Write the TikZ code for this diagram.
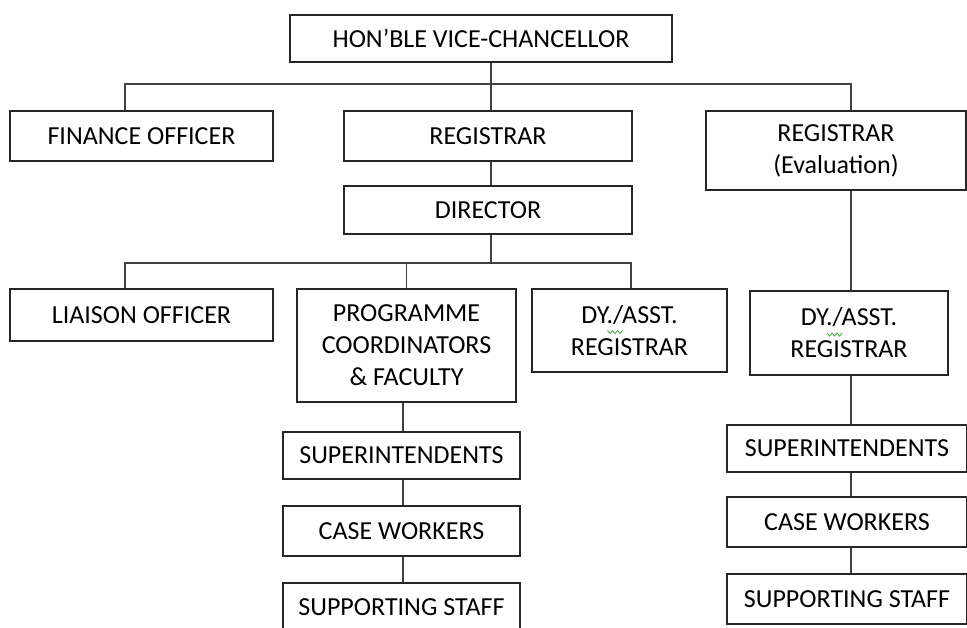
\documentclass[tikz,border=0pt]{standalone}
\usepackage{fontspec}
\setmainfont{Carlito}
\definecolor{squig}{RGB}{60,170,60}
\begin{document}
\begin{tikzpicture}[x=1pt,y=-1pt,
  box/.style={draw=black!85,line width=1.4pt,fill=white,align=center,inner sep=0pt,
    font=\fontsize{26}{32}\selectfont},
  conn/.style={draw=black!75,line width=1.3pt},
  spell/.style={draw=squig,line width=0.8pt}]
\useasboundingbox (0,0) rectangle (967,628);
% boxes
\node[box,minimum width=382,minimum height=47] (vc) at (481,38.5) {HON’BLE VICE-CHANCELLOR};
\node[box,minimum width=263,minimum height=50] (fin) at (141.5,136) {FINANCE OFFICER};
\node[box,minimum width=288,minimum height=50] (reg) at (488,136) {REGISTRAR};
\node[box,minimum width=260,minimum height=79] (rege) at (836,150.5) {REGISTRAR\\(Evaluation)};
\node[box,minimum width=288,minimum height=48] (dir) at (488,210) {DIRECTOR};
\node[box,minimum width=263,minimum height=52] (lia) at (141.5,315) {LIAISON OFFICER};
\node[box,minimum width=219,minimum height=113] (prog) at (406.5,345.5) {PROGRAMME\\COORDINATORS\\\& FACULTY};
\node[box,minimum width=195,minimum height=83] (dya) at (629.5,330.5) {DY./ASST.\\REGISTRAR};
\node[box,minimum width=198,minimum height=84] (dyb) at (849,333) {DY./ASST.\\REGISTRAR};
\node[box,minimum width=237,minimum height=47] (supa) at (401.5,455.5) {SUPERINTENDENTS};
\node[box,minimum width=237,minimum height=50] (cwa) at (401.5,531) {CASE WORKERS};
\node[box,minimum width=237,minimum height=48] (ssa) at (401.5,607) {SUPPORTING STAFF};
\node[box,minimum width=240,minimum height=47] (supb) at (847,448.5) {SUPERINTENDENTS};
\node[box,minimum width=240,minimum height=50] (cwb) at (847,522) {CASE WORKERS};
\node[box,minimum width=240,minimum height=50] (ssb) at (847,599) {SUPPORTING STAFF};
% spell-check squiggles
\foreach \n in {dya,dyb}
  \draw[spell] ([shift={(-22,0)}]\n.center) -- ++(2.5,3) -- ++(2.5,-3) -- ++(2.5,3) -- ++(2.5,-3) -- ++(2.5,3) -- ++(2.5,-3);
% bus coordinates
\coordinate (b1) at (491,84);
\coordinate (b2) at (491,263);
% top level
\draw[conn] (vc.south -| b1) -- (reg.north -| b1);
\draw[conn] (fin.north -| 125,0) |- (b1) -| (rege.north -| 851,0);
% registrar to director
\draw[conn] (reg.south -| b1) -- (dir.north -| b1);
% director level
\draw[conn] (dir.south -| b2) -- (b2);
\draw[conn] (lia.north -| 125,0) |- (b2) -| (dya.north -| 631,0);
\draw[conn] (b2 -| prog.north) -- (prog.north);
% left column
\draw[conn] (prog.south -| 403,0) -- (supa.north -| 403,0);
\draw[conn] (supa.south -| 403,0) -- (cwa.north -| 403,0);
\draw[conn] (cwa.south -| 403,0) -- (ssa.north -| 403,0);
% right column
\draw[conn] (rege.south -| 851,0) -- (dyb.north -| 851,0);
\draw[conn] (dyb.south -| 851,0) -- (supb.north -| 851,0);
\draw[conn] (supb.south -| 851,0) -- (cwb.north -| 851,0);
\draw[conn] (cwb.south -| 851,0) -- (ssb.north -| 851,0);
\end{tikzpicture}
\end{document}
